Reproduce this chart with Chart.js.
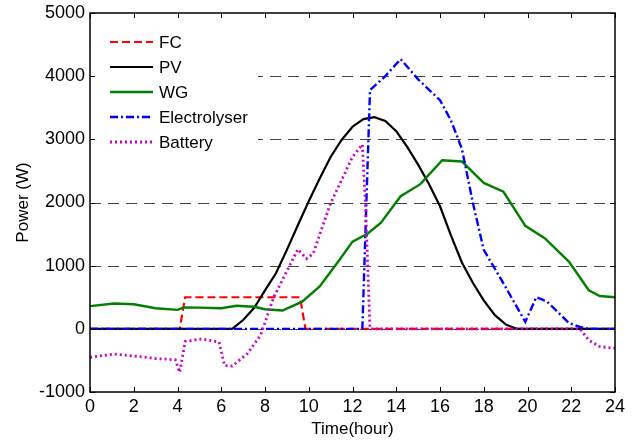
<!DOCTYPE html>
<html>
<head>
<meta charset="utf-8">
<script src="https://cdn.jsdelivr.net/npm/chart.js@4"></script>
<style>
  html,body{margin:0;padding:0;background:#fff;}
  #c{display:block;}
</style>
</head>
<body>
<canvas id="c" width="637" height="443"></canvas>
<script>
// series values (hour, watt)
const fcHours = [0, 4.1, 4.35, 9.6, 9.85, 24];
const fcPower = [0, 0, 500, 500, 0, 0];

const pvHours = [0, 6.5, 7, 7.5, 8, 8.5, 9, 9.5, 10, 10.5, 11, 11.5, 12, 12.5, 13, 13.5, 14, 14.5, 15, 15.5, 16, 16.5, 17, 17.5, 18, 18.5, 19, 19.5, 24];
const pvPower = [0, 0, 140, 330, 610, 880, 1250, 1640, 2020, 2380, 2720, 2990, 3200, 3320, 3350, 3290, 3130, 2880, 2600, 2290, 1940, 1480, 1050, 730, 450, 220, 70, 0, 0];

const wgHours = [0, 1.1, 2, 3, 4, 4.3, 5, 6, 6.7, 7.5, 8, 8.8, 9.7, 10.5, 11.4, 12, 12.7, 13.3, 14.2, 15.1, 16.1, 17, 18, 18.9, 19.9, 20.8, 21.9, 22.8, 23.3, 24];
const wgPower = [360, 400, 390, 325, 300, 340, 335, 325, 365, 350, 310, 290, 430, 670, 1090, 1380, 1510, 1680, 2100, 2290, 2670, 2650, 2310, 2170, 1630, 1430, 1060, 610, 520, 500];

const elHours = [0, 12.45, 12.8, 13.5, 14.2, 15, 16, 16.5, 17, 17.5, 18, 18.9, 19.9, 20.4, 20.9, 21.9, 22.4, 22.8, 24];
const elPower = [0, 0, 3780, 4000, 4270, 3950, 3620, 3300, 2850, 2000, 1250, 720, 110, 500, 430, 90, 30, 0, 0];

const batHours = [0, 1.1, 2, 3, 3.9, 4.1, 4.35, 5.1, 5.9, 6.15, 6.5, 7.2, 7.8, 8.4, 9.5, 9.9, 10.2, 11, 12, 12.45, 12.6, 12.8, 22.4, 22.8, 23.3, 24];
const batPower = [-450, -400, -430, -470, -490, -690, -200, -160, -210, -580, -590, -390, -100, 500, 1260, 1110, 1190, 1990, 2720, 2920, 1900, 0, 0, -180, -280, -310];

const seriesNames = ['FC', 'PV', 'WG', 'Electrolyser', 'Battery'];
const xTicks = [0, 2, 4, 6, 8, 10, 12, 14, 16, 18, 20, 22, 24];
const yTicks = [-1000, 0, 1000, 2000, 3000, 4000, 5000];

const FAMILY = '"Liberation Sans", Arial, sans-serif';
const FONT = {family: FAMILY, size: 17};
const TICKFONT = {family: FAMILY, size: 18};

function pts(xs, ys){
    return xs.map((x, i) => ({x: x, y: ys[i]}));
}

function line(label, xs, ys, color, dash, width, order){
    return {
        label: label, data: pts(xs, ys),
        borderColor: color, backgroundColor: color,
        borderDash: dash, borderWidth: width,
        pointRadius: 0, tension: 0, fill: false,
        borderCapStyle: 'butt', order: order
    };
}

// grid, legend box, frame and inward ticks (matlab look)
const framePlugin = {
    id: 'frame',
    beforeDatasetsDraw(chart){
        const {ctx, chartArea: a, scales: {y}} = chart;
        ctx.save();
        ctx.strokeStyle = '#444';
        ctx.lineWidth = 1;
        ctx.setLineDash([11, 7]);
        yTicks.forEach(v => {
            if (v <= y.min || v >= y.max) return;
            const py = Math.round(y.getPixelForValue(v)) + 0.5;
            ctx.beginPath();
            ctx.moveTo(a.left, py);
            ctx.lineTo(a.right, py);
            ctx.stroke();
        });
        ctx.restore();
    },
    afterDatasetsDraw(chart){
        const {ctx, chartArea: a} = chart;
        // legend
        ctx.save();
        ctx.fillStyle = '#fff';
        ctx.fillRect(a.left + 1, a.top + 1, 167, 143);
        const x0 = a.left + 20, x1 = a.left + 63;
        chart.data.datasets.forEach((ds, i) => {
            const yy = a.top + 29 + i * 25;
            ctx.strokeStyle = ds.borderColor;
            ctx.lineWidth = ds.borderWidth;
            ctx.setLineDash(ds.borderDash || []);
            ctx.beginPath();
            ctx.moveTo(x0, yy);
            ctx.lineTo(x1, yy);
            ctx.stroke();
            ctx.setLineDash([]);
            ctx.fillStyle = '#000';
            ctx.font = FONT.size + 'px ' + FONT.family;
            ctx.textBaseline = 'middle';
            ctx.textAlign = 'left';
            ctx.fillText(ds.label, x1 + 6, yy + 1);
        });
        ctx.restore();
    },
    afterDraw(chart){
        const {ctx, chartArea: a, scales: {x, y}} = chart;
        ctx.save();
        ctx.strokeStyle = '#000';
        ctx.lineWidth = 1.5;
        ctx.setLineDash([]);
        ctx.strokeRect(a.left, a.top, a.right - a.left, a.bottom - a.top);
        ctx.lineWidth = 1;
        const tl = 5;
        ctx.beginPath();
        xTicks.forEach(v => {
            const px = Math.round(x.getPixelForValue(v)) + 0.5;
            ctx.moveTo(px, a.bottom); ctx.lineTo(px, a.bottom - tl);
            ctx.moveTo(px, a.top); ctx.lineTo(px, a.top + tl);
        });
        yTicks.forEach(v => {
            const py = Math.round(y.getPixelForValue(v)) + 0.5;
            ctx.moveTo(a.left, py); ctx.lineTo(a.left + tl, py);
            ctx.moveTo(a.right, py); ctx.lineTo(a.right - tl, py);
        });
        ctx.stroke();
        ctx.restore();
    }
};

const chart = new Chart(document.getElementById('c').getContext('2d'), {
    type: 'line',
    data: {
        datasets: [
            line(seriesNames[0], fcHours, fcPower, '#ff0000', [8, 4], 2.2, 4),
            line(seriesNames[1], pvHours, pvPower, '#000000', [], 2.2, 3),
            line(seriesNames[2], wgHours, wgPower, '#007f00', [], 2.4, 2),
            line(seriesNames[3], elHours, elPower, '#0000ff', [8, 3, 2, 3], 2.4, 1),
            line(seriesNames[4], batHours, batPower, '#c800c8', [2, 3], 2.8, 0)
        ]
    },
    options: {
        responsive: false,
        animation: false,
        layout: {padding: {left: 0, right: 22, top: 13, bottom: 0}},
        plugins: {legend: {display: false}, tooltip: {enabled: false}},
        scales: {
            x: {
                type: 'linear', min: 0, max: 24,
                afterBuildTicks: s => { s.ticks = xTicks.map(v => ({value: v})); },
                ticks: {font: TICKFONT, color: '#000', padding: 4, maxRotation: 0, autoSkip: false, callback: v => String(v)},
                grid: {display: false, drawTicks: false},
                border: {display: false},
                title: {display: true, text: 'Time(hour)', font: FONT, color: '#000', padding: {top: 0, bottom: 3}},
                afterFit: s => { s.height = 51; s.paddingLeft = 0; s.paddingRight = 0; }
            },
            y: {
                type: 'linear', min: -1000, max: 5000,
                afterBuildTicks: s => { s.ticks = yTicks.map(v => ({value: v})); },
                ticks: {font: TICKFONT, color: '#000', padding: 5, callback: v => String(v)},
                grid: {display: false, drawTicks: false},
                border: {display: false},
                title: {display: true, text: 'Power (W)', font: FONT, color: '#000', padding: {top: 13, bottom: 0}},
                afterFit: s => { s.width = 90; s.paddingTop = 0; s.paddingBottom = 0; }
            }
        }
    },
    plugins: [framePlugin]
});
</script>
</body>
</html>
